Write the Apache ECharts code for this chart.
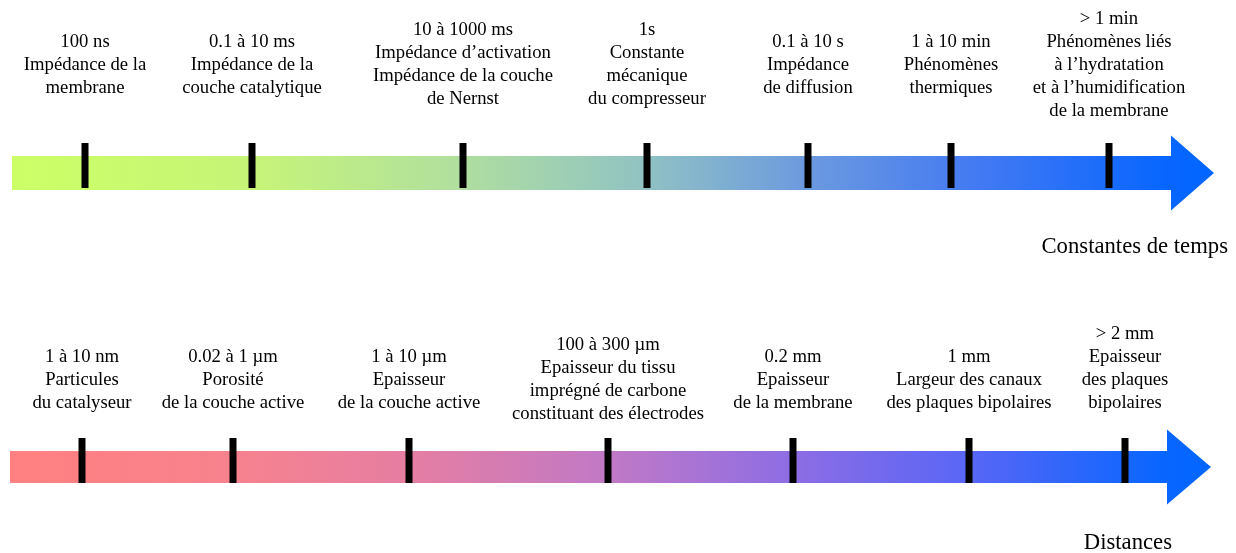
<!DOCTYPE html>
<html lang="fr">
<head>
    <meta http-equiv="Content-Type" content="text/html; charset=UTF-8">
    <title>Constantes de temps et distances</title>
    <script type="text/javascript" src="https://cdn.jsdelivr.net/npm/echarts@6/dist/echarts.min.js"></script>
    <style>
        html, body { margin: 0; padding: 0; background: #fff; }
        #main { width: 1236px; height: 553px; }
    </style>
</head>
<body>
<div id="main"></div>

<script type="text/javascript">
    // position des graduations le long de chaque flèche (unités = largeur de la figure)
    var timeTicks = [85, 252, 463, 647, 808, 951, 1109];
    var timeLabels = [
        '100 ns\nImpédance de la\nmembrane',
        '0.1 à 10 ms\nImpédance de la\ncouche catalytique',
        '10 à 1000 ms\nImpédance d’activation\nImpédance de la couche\nde Nernst',
        '1s\nConstante\nmécanique\ndu compresseur',
        '0.1 à 10 s\nImpédance\nde diffusion',
        '1 à 10 min\nPhénomènes\nthermiques',
        '> 1 min\nPhénomènes liés\nà l’hydratation\net à l’humidification\nde la membrane'
    ];
    var distTicks = [82, 233, 409, 608, 793, 969, 1125];
    var distLabels = [
        '1 à 10 nm\nParticules\ndu catalyseur',
        '0.02 à 1 µm\nPorosité\nde la couche active',
        '1 à 10 µm\nEpaisseur\nde la couche active',
        '100 à 300 µm\nEpaisseur du tissu\nimprégné de carbone\nconstituant des électrodes',
        '0.2 mm\nEpaisseur\nde la membrane',
        '1 mm\nLargeur des canaux\ndes plaques bipolaires',
        '> 2 mm\nEpaisseur\ndes plaques\nbipolaires'
    ];
    // étendue des flèches [début, fin de la tige, pointe]
    var timeArrow = [12, 1171, 1214];
    var distArrow = [10, 1167, 1211];

    var FONT = '"Liberation Serif", "Times New Roman", serif';

    // mise en page des deux lignes
    var rows = {
        time: { yc: 173, half: 17, head: 37.5, tickTop: 143, tickBot: 188, labelY: 65,
            stops: [[0, '#CCFF66'], [0.2, '#C6F478'], [0.36, '#B2E19C'], [0.52, '#92C4C2'],
                    [0.66, '#6C9ADF'], [0.8, '#447AF2'], [0.96, '#0866FF'], [1, '#0066FF']] },
        dist: { yc: 467, half: 16, head: 37.5, tickTop: 438, tickBot: 483, labelY: 380,
            stops: [[0, '#FF8080'], [0.18, '#F7828D'], [0.33, '#E67EA2'], [0.5, '#C079C6'],
                    [0.65, '#8E6DE4'], [0.8, '#5866F6'], [0.96, '#0866FF'], [1, '#0066FF']] }
    };
    var labelShift = { dist: { 6: -11 } };

    function arrowSeries(name, range) {
        var r = rows[name];
        return {
            type: 'custom',
            silent: true,
            data: [range],
            renderItem: function (params, api) {
                var x0 = api.value(0), x1 = api.value(1), x2 = api.value(2);
                var pts = [
                    [x0, r.yc - r.half], [x1, r.yc - r.half], [x1, r.yc - r.head],
                    [x2, r.yc], [x1, r.yc + r.head], [x1, r.yc + r.half], [x0, r.yc + r.half]
                ].map(function (p) { return api.coord(p); });
                return {
                    type: 'polygon',
                    shape: { points: pts },
                    style: {
                        fill: new echarts.graphic.LinearGradient(0, 0, 1, 0,
                            r.stops.map(function (s) { return { offset: s[0], color: s[1] }; }))
                    }
                };
            }
        };
    }

    function tickSeries(name, ticks, labels) {
        var r = rows[name];
        var shift = labelShift[name] || {};
        return {
            type: 'custom',
            silent: true,
            data: ticks.map(function (x, i) { return [x, i]; }),
            renderItem: function (params, api) {
                var i = api.value(1);
                var a = api.coord([api.value(0), r.tickTop]);
                var b = api.coord([api.value(0), r.tickBot]);
                var t = api.coord([api.value(0), r.labelY + (shift[i] || 0)]);
                return {
                    type: 'group',
                    children: [{
                        type: 'rect',
                        shape: { x: a[0] - 3.5, y: a[1], width: 7, height: b[1] - a[1] },
                        style: { fill: '#000' }
                    }, {
                        type: 'text',
                        x: t[0], y: t[1],
                        style: {
                            text: labels[i],
                            align: 'center',
                            verticalAlign: 'middle',
                            fontFamily: FONT,
                            fontSize: 18.7,
                            lineHeight: 23,
                            fill: '#000'
                        }
                    }]
                };
            }
        };
    }

    var myChart = echarts.init(document.getElementById('main'));

    myChart.setOption({
        animation: false,
        backgroundColor: '#fff',
        title: [{
            text: 'Constantes de temps',
            right: 8, top: 236, padding: 0,
            textStyle: { fontFamily: FONT, fontSize: 22.7, fontWeight: 'normal', color: '#000' }
        }, {
            text: 'Distances',
            right: 64, top: 532, padding: 0,
            textStyle: { fontFamily: FONT, fontSize: 22.7, fontWeight: 'normal', color: '#000' }
        }],
        grid: { left: 0, right: 0, top: 0, bottom: 0 },
        xAxis: { type: 'value', min: 0, max: 1236, show: false },
        yAxis: { type: 'value', min: 0, max: 553, inverse: true, show: false },
        series: [
            arrowSeries('time', timeArrow),
            arrowSeries('dist', distArrow),
            tickSeries('time', timeTicks, timeLabels),
            tickSeries('dist', distTicks, distLabels)
        ]
    });
</script>
</body>
</html>
